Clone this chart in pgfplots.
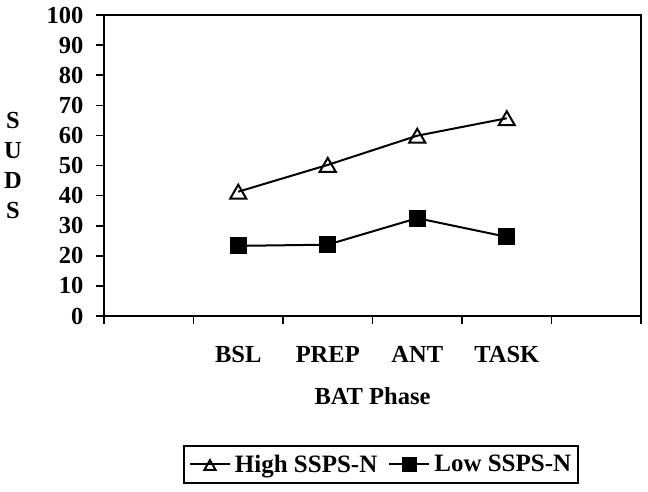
\documentclass[border=0pt]{standalone}
\usepackage{pgfplots}
\pgfplotsset{compat=1.18}
\usepackage{fontspec}
\setmainfont{Liberation Serif}

% BAT phases sit at x = 1..4, the empty slots 0 and 5 pad the ends
\pgfplotstableread{
x  high  low
1  41.3  23.3
2  50.2  23.7
3  59.9  32.5
4  65.7  26.3
}\sudsdata

\begin{document}
\begin{tikzpicture}
\path[use as bounding box] (-104pt,-175pt) rectangle (544pt,316pt);
\begin{axis}[
    scale only axis,
    width=537pt, height=301pt,
    xmin=-0.5, xmax=5.5,
    ymin=0, ymax=100,
    ytick={0,10,...,100},
    xtick={-0.5,0.5,...,5.5},
    xticklabels={},
    extra x ticks={1,2,3,4},
    extra x tick labels={BSL,PREP,ANT,TASK},
    extra x tick style={major tick length=0pt},
    xtick pos=left, ytick pos=left,
    tick align=outside,
    major tick length=7.5pt,
    tick style={black, line width=1.6pt},
    axis line style={line width=2.2pt},
    font=\fontsize{24.5}{29}\selectfont\bfseries,
    /pgf/number format/assume math mode=true,
    yticklabel style={anchor=east, inner sep=0pt, xshift=-13pt},
    xticklabel style={anchor=base, inner sep=0pt, yshift=-46pt},
    every axis x label/.style={at={(axis description cs:0.5,0)}, anchor=base, yshift=-88pt},
    every axis y label/.style={at={(axis description cs:-0.1695,0.5)}, anchor=center, align=center,
        font=\fontsize{24.5}{30}\selectfont\bfseries},
    xlabel={BAT Phase},
    ylabel={S\\U\\D\\S},
    legend columns=-1,
    legend style={at={(axis description cs:0.516,-0.493)}, anchor=center,
        draw=black, line width=1.5pt, inner xsep=5pt, inner ysep=7pt,
        font=\fontsize{25}{29}\selectfont\bfseries,
        /tikz/every odd column/.append style={column sep=2pt},
        /tikz/every even column/.append style={column sep=9pt}},
    legend image code/.code={
        \draw[#1, line width=2pt, mark repeat=2, mark phase=2, mark size=6.5pt]
            plot coordinates {(0pt,0pt) (20pt,0pt) (40pt,0pt)};},
]
\addplot[black, line width=2pt, mark=triangle, mark size=9.3pt,
    mark options={fill=white, line width=2pt, yshift=-2.3pt}]
    table[x=x, y=high] {\sudsdata};
\addlegendentry{High SSPS-N}
\addplot[black, line width=2pt, mark=square*, mark size=7.5pt,
    mark options={fill=black}]
    table[x=x, y=low] {\sudsdata};
\addlegendentry{Low SSPS-N}
\end{axis}
\end{tikzpicture}
\end{document}
